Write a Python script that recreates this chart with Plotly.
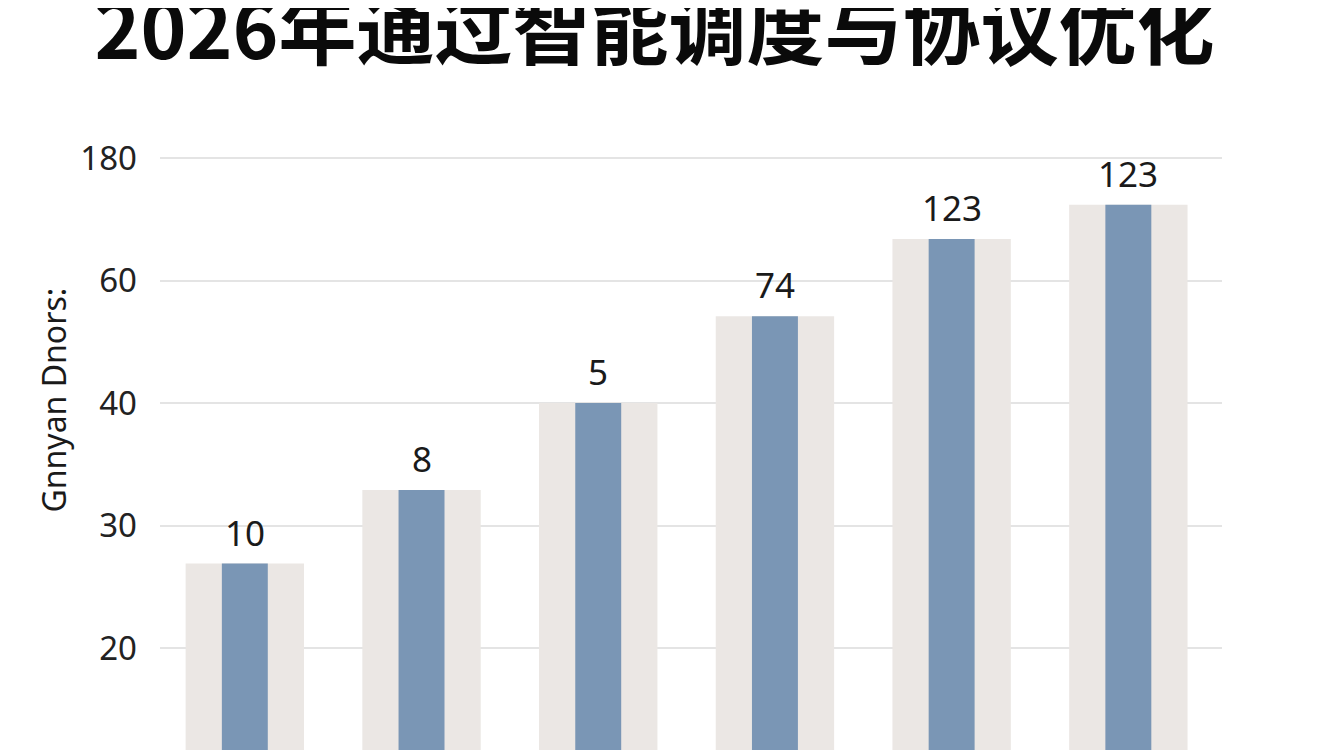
import plotly.graph_objects as go

# values (axis units; ticks are relabelled below)
positions = [0, 1, 2, 3, 4, 5]
bar_heights = [26.9, 32.9, 40.0, 47.1, 53.4, 56.2]
bar_labels = ["10", "8", "5", "74", "123", "123"]
tick_vals = [20, 30, 40, 50, 60]
tick_text = ["20", "30", "40", "60", "180"]

title = "2026年通过智能调度与协议优化"
y_title = "Gnnyan Dnors:"

fig = go.Figure()

# wide pale bars behind
fig.add_trace(go.Bar(
    x=positions, y=bar_heights, width=0.67,
    marker=dict(color="#ebe7e4", line_width=0),
    hoverinfo="skip",
))
# narrow blue bars in front
fig.add_trace(go.Bar(
    x=positions, y=bar_heights, width=0.26,
    marker=dict(color="#7a96b5", line_width=0),
))

# value labels above the bars
labels = [dict(
    x=xv, y=yv, text=t, xref="x", yref="y", showarrow=False,
    yanchor="bottom", yshift=6,
    font=dict(family="Noto Sans", size=35, color="#1a1a1a"),
) for xv, yv, t in zip(positions, bar_heights, bar_labels)]

fig.update_layout(
    width=1344, height=750,
    barmode="overlay", showlegend=False,
    paper_bgcolor="white", plot_bgcolor="white",
    margin=dict(l=152, r=130, t=122, b=8),
    title=dict(
        text=title, x=0.481, xanchor="center", y=0.969, yanchor="middle",
        font=dict(family="Noto Sans CJK SC", size=78, color="#0a0a0a", weight="bold"),
    ),
    xaxis=dict(range=[-0.48, 5.53], visible=False),
    yaxis=dict(
        range=[11.67, 62.3], tickvals=tick_vals, ticktext=tick_text,
        showgrid=True, gridcolor="#e4e4e4", gridwidth=1.5, zeroline=False,
        showline=False, ticks="", ticklabelstandoff=22,
        tickfont=dict(family="Noto Sans", size=33, color="#222222"),
    ),
    annotations=labels + [dict(
        text=y_title, textangle=-90, xref="paper", yref="paper",
        x=-0.1, y=0.565, xanchor="center", yanchor="middle", showarrow=False,
        font=dict(family="Noto Sans", size=32, color="#1a1a1a"),
    )],
)

fig.write_html("out.html")
